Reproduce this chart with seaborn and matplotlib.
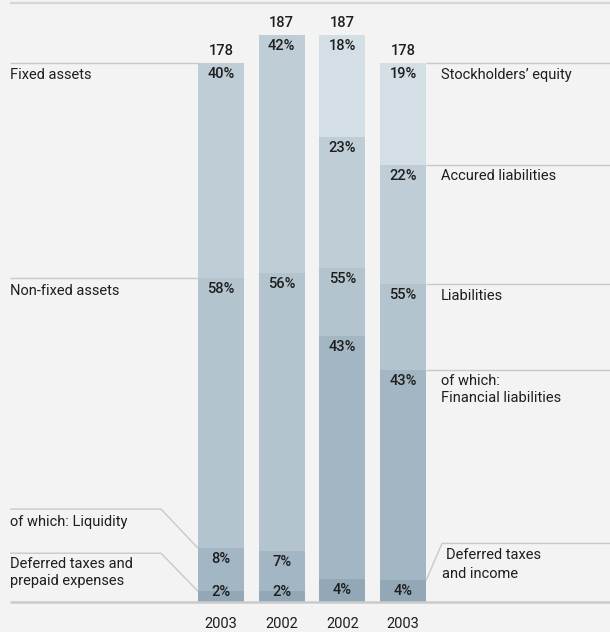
import matplotlib
matplotlib.use("Agg")
import matplotlib.pyplot as plt
import seaborn as sns
import pandas as pd
import numpy as np

# ---------------- data ----------------
bar_ids = ["Assets 2003", "Assets 2002", "Liabilities 2002", "Liabilities 2003"]
year_labels = ["2003", "2002", "2002", "2003"]
totals = [178, 187, 187, 178]

# assets side (shares in % of total)
fixed_assets = [40, 42]
non_fixed_assets = [58, 56]
liquidity = [8, 7]
deferred_prepaid = [2, 2]

# equity & liabilities side (shares in % of total)
equity = [18, 19]
accrued = [23, 22]
liabilities = [55, 55]
financial_label = [43, 43]
financial_drawn = [43, 39]   # height of the segment as drawn in the picture
deferred_income = [4, 4]

left_labels = ["Fixed assets", "Non-fixed assets", "of which: Liquidity",
               "Deferred taxes and\nprepaid expenses"]
right_labels = ["Stockholders’ equity", "Accured liabilities", "Liabilities",
                "of which:\nFinancial liabilities"]

# ---------------- style ----------------
BG = "#f3f3f3"
C0, C1, C2, C3, C4 = "#d3dee5", "#bfcdd6", "#b3c4cf", "#a3b6c3", "#93a8b7"
LINE = "#c9c9c9"
TXT = "#1e1e1e"

sns.set_theme(style="white")
plt.rcParams["font.family"] = ["Roboto", "DejaVu Sans"]

W, H = 610, 632
fig = plt.figure(figsize=(W / 100, H / 100), dpi=100, facecolor=BG)
ax = fig.add_axes([0, 0, 1, 1], facecolor=BG)

# pixel geometry of the layout
X0, UX = 221.0, 60.67       # centre of first bar, px per category
Y0, UY = 602.0, 3.03        # baseline (px from top), px per unit
def xd(px):
    return (px - X0) / UX
def yd(py):
    return (Y0 - py) / UY

# ---------------- build stacked segments ----------------
rows = []
labels = []   # (bar index, y top in data, text)
for i in range(2):
    t = totals[i]
    d = deferred_prepaid[i]
    bounds = [d, d + liquidity[i], d + non_fixed_assets[i], 100]
    cols = [C4, C3, C2, C1]
    for k, (b, c) in enumerate(zip(bounds, cols)):
        rows.append(dict(bar=bar_ids[i], layer=k, cum=b * t / 100, color=c))
    labels += [(i, 100 * t / 100, f"{fixed_assets[i]}%"),
               (i, (d + non_fixed_assets[i]) * t / 100, f"{non_fixed_assets[i]}%"),
               (i, (d + liquidity[i]) * t / 100, f"{liquidity[i]}%"),
               (i, d * t / 100, f"{d}%")]
for j in range(2):
    i = j + 2
    t = totals[i]
    d = deferred_income[j]
    bounds = [d, d + financial_drawn[j], d + liabilities[j],
              d + liabilities[j] + accrued[j], 100]
    cols = [C4, C3, C2, C1, C0]
    for k, (b, c) in enumerate(zip(bounds, cols)):
        rows.append(dict(bar=bar_ids[i], layer=k, cum=b * t / 100, color=c))
    labels += [(i, 100 * t / 100, f"{equity[j]}%"),
               (i, (d + liabilities[j] + accrued[j]) * t / 100, f"{accrued[j]}%"),
               (i, (d + liabilities[j]) * t / 100, f"{liabilities[j]}%"),
               (i, (d + financial_drawn[j]) * t / 100, f"{financial_label[j]}%"),
               (i, d * t / 100, f"{d}%")]
df = pd.DataFrame(rows)

for layer in sorted(df.layer.unique(), reverse=True):
    sub = df[df.layer == layer]
    pal = {b: C2 for b in bar_ids}
    pal.update(dict(zip(sub.bar, sub.color)))
    sns.barplot(data=sub, x="bar", y="cum", hue="bar", order=bar_ids,
                hue_order=bar_ids, palette=pal, dodge=False, legend=False,
                errorbar=None, width=0.76, saturation=1, linewidth=0, ax=ax)

ax.set_xlim(xd(0), xd(W))
ax.set_ylim(yd(H), yd(0))
ax.set_axis_off()

FS = 10.5
# percent labels inside segments
for i, ytop, txt in labels:
    y = max(ytop - 11 / UY, 10 / UY)
    ax.text(i, y, txt, ha="center", va="center", fontsize=FS,
            color=TXT, fontweight="medium")
# totals above bars
for i, t in enumerate(totals):
    ax.text(i, t + 12 / UY, str(t), ha="center", va="center", fontsize=FS,
            color=TXT, fontweight="medium")
# year labels
for i, y in enumerate(year_labels):
    ax.text(i, yd(624), y, ha="center", va="center", fontsize=FS, color=TXT)

# top rule and baseline
ax.plot([xd(10), xd(W)], [yd(3), yd(3)], color="#d6d6d6", lw=1.6,
        solid_capstyle="butt")
ax.plot([xd(10), xd(W)], [0, 0], color="#cbcbcb", lw=1.8, solid_capstyle="butt")

# left leader lines & labels (assets 2003 bar)
bl = 0 - 0.38
t0 = totals[0]
yf = 100 * t0 / 100
yn = (deferred_prepaid[0] + non_fixed_assets[0]) * t0 / 100
yl = (deferred_prepaid[0] + liquidity[0]) * t0 / 100
ydf = deferred_prepaid[0] * t0 / 100
kw = dict(color=LINE, lw=1.0, solid_capstyle="butt")
ax.plot([xd(10), bl], [yf, yf], **kw)
ax.plot([xd(10), bl], [yn, yn], **kw)
ax.plot([xd(10), xd(161), bl], [yl + 39 / UY, yl + 39 / UY, yl], **kw)
ax.plot([xd(10), xd(161), bl], [ydf + 38 / UY, ydf + 38 / UY, ydf], **kw)
ax.text(xd(10), yf - 12 / UY, left_labels[0], ha="left", va="center",
        fontsize=FS, color=TXT)
ax.text(xd(10), yn - 13 / UY, left_labels[1], ha="left", va="center",
        fontsize=FS, color=TXT)
ax.text(xd(10), yl + 39 / UY - 13 / UY, left_labels[2], ha="left",
        va="center", fontsize=FS, color=TXT)
ax.text(xd(10), ydf + 38 / UY - 4 / UY, left_labels[3], ha="left", va="top",
        fontsize=FS, color=TXT, linespacing=1.25)

# right leader lines & labels (liabilities 2003 bar)
br = 3 + 0.38
t3 = totals[3]
ye = 100 * t3 / 100
ya = (deferred_income[1] + liabilities[1] + accrued[1]) * t3 / 100
yli = (deferred_income[1] + liabilities[1]) * t3 / 100
yfi = (deferred_income[1] + financial_drawn[1]) * t3 / 100
ydi = deferred_income[1] * t3 / 100
for yy in (ye, ya, yli, yfi):
    ax.plot([br, xd(W)], [yy, yy], **kw)
ax.plot([br, xd(442), xd(W)], [ydi, ydi + 37 / UY, ydi + 37 / UY], **kw)
ax.text(xd(441), ye - 12 / UY, right_labels[0], ha="left", va="center",
        fontsize=FS, color=TXT)
ax.text(xd(441), ya - 11 / UY, right_labels[1], ha="left", va="center",
        fontsize=FS, color=TXT)
ax.text(xd(441), yli - 12 / UY, right_labels[2], ha="left", va="center",
        fontsize=FS, color=TXT)
ax.text(xd(441), yfi - 4 / UY, right_labels[3], ha="left", va="top",
        fontsize=FS, color=TXT, linespacing=1.25)
ax.text(xd(446), ydi + 37 / UY - 12 / UY, "Deferred taxes", ha="left",
        va="center", fontsize=FS, color=TXT)
ax.text(xd(442), ydi + 37 / UY - 31 / UY, "and income", ha="left",
        va="center", fontsize=FS, color=TXT)

fig.savefig("out.png", dpi=100, facecolor=BG)
